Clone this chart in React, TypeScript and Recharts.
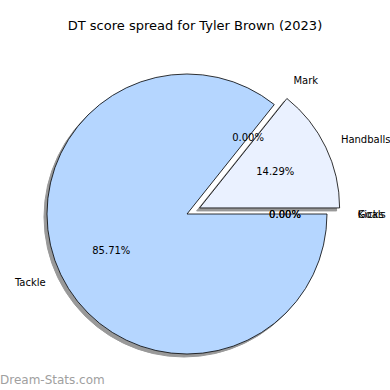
import React from 'react';
import { PieChart, Pie, Cell } from 'recharts';

// DT score split by stat type (7 points total)
const statNames = ['Kicks', 'Handballs', 'Mark', 'Tackle', 'Goals'];
const statPoints = [0, 1, 0, 6, 0];
const explodeBy = [0.1, 0.1, 0.1, 0, 0.1];
const sliceColors = ['#c9e0ff', '#eaf1ff', '#d6e6ff', '#b5d6ff', '#c9e0ff'];

const CX = 187;
const CY = 214;
const R = 140;
const RAD = Math.PI / 180;

const data = statNames.map((name, i) => ({ name, value: statPoints[i] }));
const total = statPoints.reduce((s, v) => s + v, 0);

// mid angle of each wedge, counter-clockwise from east (matplotlib default)
const midAngles = statPoints.map((v, i) => {
  const before = statPoints.slice(0, i).reduce((s, x) => s + x, 0);
  return (360 * (before + v / 2)) / total;
});

const centerOf = (i: number) => ({
  x: CX + explodeBy[i] * R * Math.cos(midAngles[i] * RAD),
  y: CY - explodeBy[i] * R * Math.sin(midAngles[i] * RAD),
});

const makeLabel = (only: number) => (props: any) => {
  if (props.index !== only) return null;
  const a = props.midAngle * RAD;
  const c = centerOf(only);
  const nx = c.x + R * 1.12 * Math.cos(a);
  const ny = c.y - R * 1.12 * Math.sin(a);
  const px = c.x + R * 0.6 * Math.cos(a);
  const py = c.y - R * 0.6 * Math.sin(a);
  const pct = ((statPoints[only] / total) * 100).toFixed(2) + '%';
  return (
    <g>
      <text x={nx} y={ny} textAnchor={nx > c.x - 0.01 ? 'start' : 'end'} dominantBaseline="central"
        fontSize={10} fill="#000" fontFamily="DejaVu Sans">
        {statNames[only]}
      </text>
      <text x={px} y={py} textAnchor="middle" dominantBaseline="central"
        fontSize={10} fill="#000" fontFamily="DejaVu Sans">
        {pct}
      </text>
    </g>
  );
};

const App: React.FC = () => {
  return (
    <div style={{ position: 'absolute', left: 0, top: 0, width: 390, height: 390, background: '#fff', fontFamily: 'DejaVu Sans' }}>
      <div style={{ position: 'absolute', top: 18, width: 390, textAlign: 'center', fontSize: 13, color: '#000' }}>
        DT score spread for Tyler Brown (2023)
      </div>
      <PieChart width={390} height={390} margin={{ top: 0, right: 0, bottom: 0, left: 0 }}>
        {/* shadows */}
        {statNames.map((_, i) => {
          const c = centerOf(i);
          return (
            <Pie key={'s' + i} data={data} dataKey="value" nameKey="name" cx={c.x - 3} cy={c.y + 3}
              outerRadius={R} startAngle={0} endAngle={360} isAnimationActive={false} labelLine={false}>
              {data.map((_, j) => (
                <Cell key={j} fill={j === i ? '#999999' : 'none'} stroke={j === i ? '#999999' : 'none'} strokeWidth={1} />
              ))}
            </Pie>
          );
        })}
        {/* wedges */}
        {statNames.map((_, i) => {
          const c = centerOf(i);
          return (
            <Pie key={'w' + i} data={data} dataKey="value" nameKey="name" cx={c.x} cy={c.y}
              outerRadius={R} startAngle={0} endAngle={360} isAnimationActive={false}
              labelLine={false} label={makeLabel(i)}>
              {data.map((_, j) => (
                <Cell key={j} fill={j === i ? sliceColors[i] : 'none'} stroke={j === i ? '#000' : 'none'} strokeWidth={0.8} />
              ))}
            </Pie>
          );
        })}
      </PieChart>
      <div style={{ position: 'absolute', left: 0, top: 373, fontSize: 12, color: '#a0a0a0' }}>Dream-Stats.com</div>
    </div>
  );
};

export default App;
